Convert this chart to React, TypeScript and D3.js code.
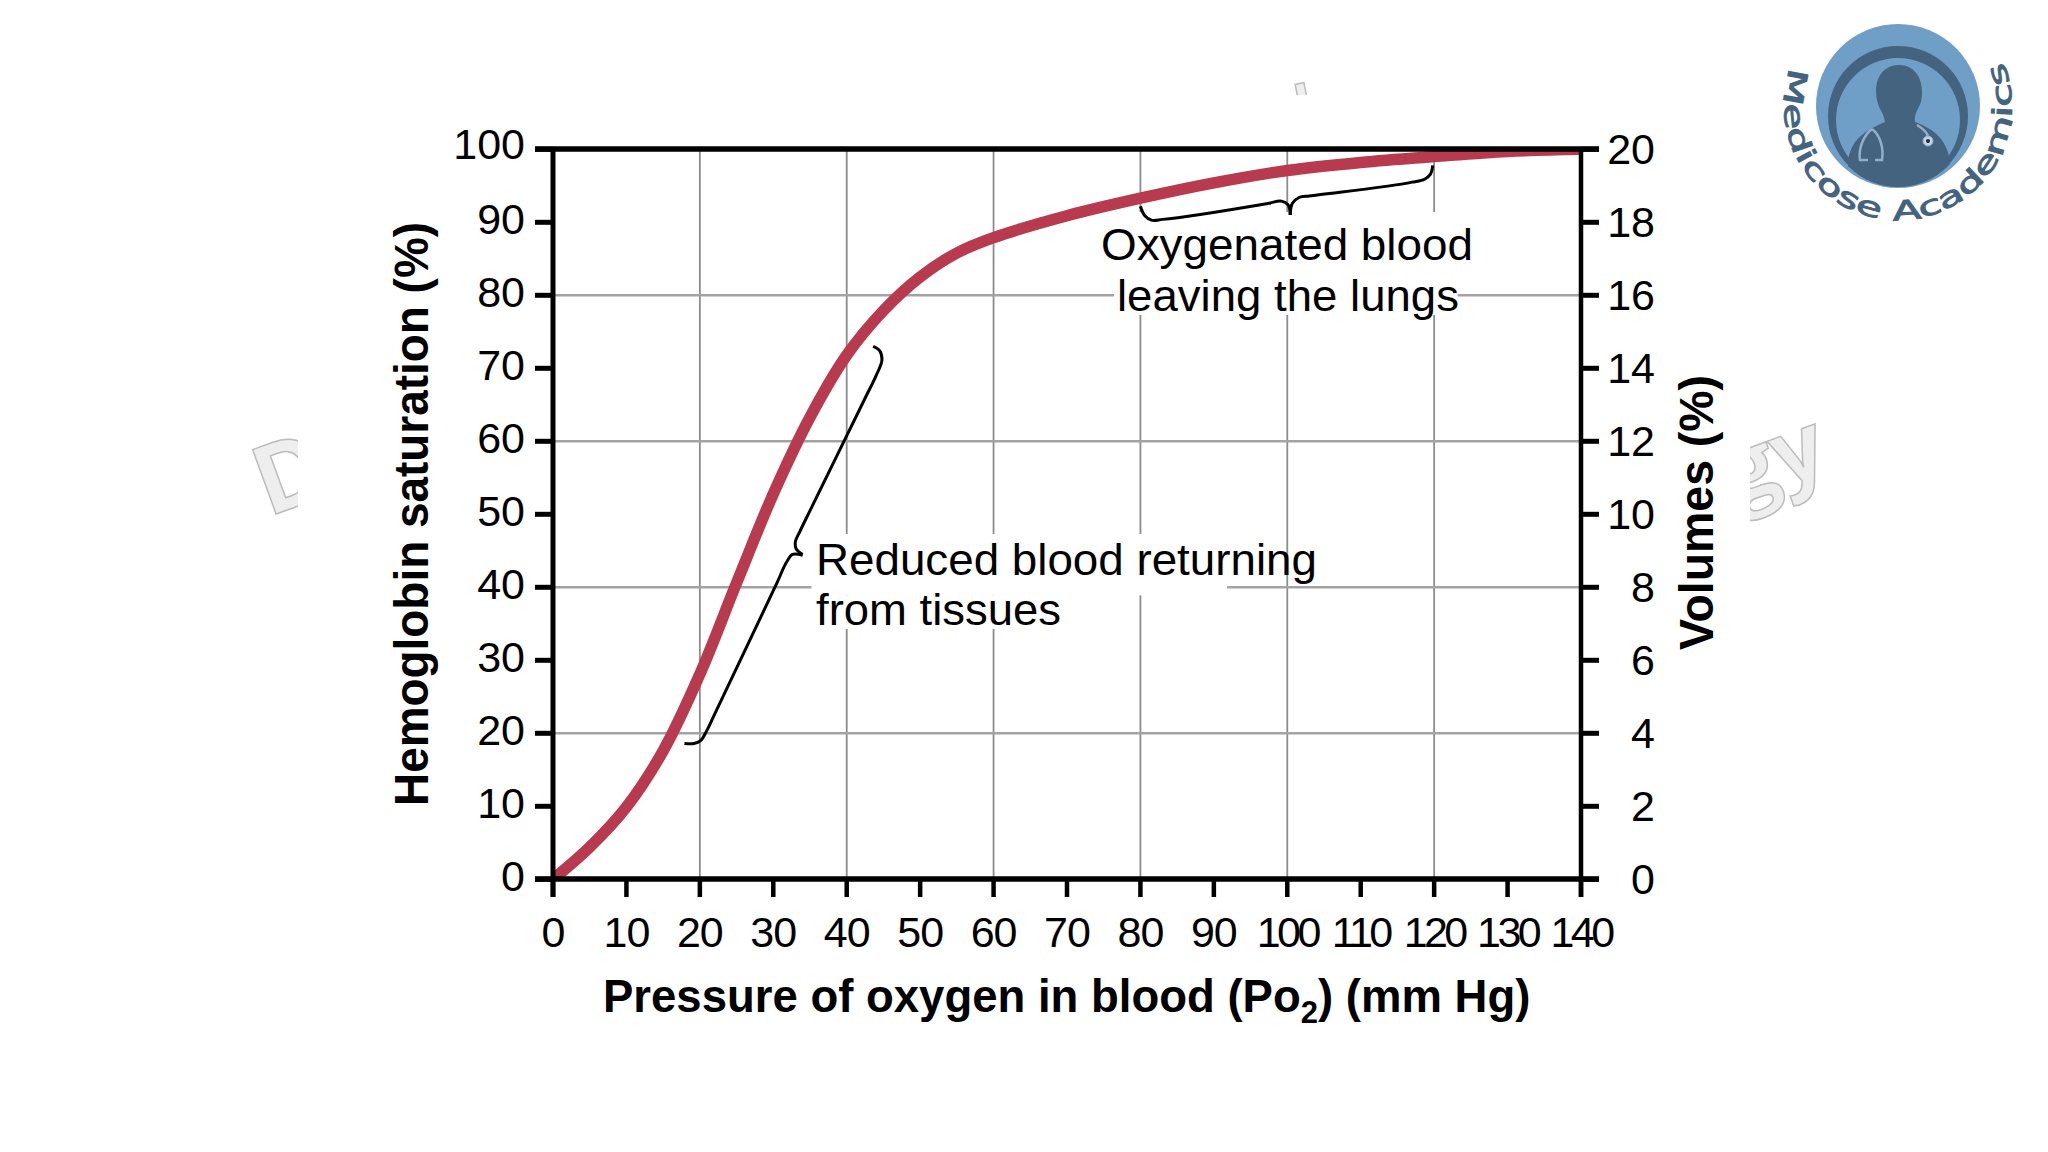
import { useEffect, useRef } from 'react'
import * as d3 from 'd3'

const width = 2048
const height = 1152
const margin = { top: 149, right: 467, bottom: 273, left: 553 }

// Po2 (mm Hg) vs saturation (%)
const po2 = [0, 5, 10, 15, 20, 25, 30, 35, 40, 45, 50, 55, 60, 70, 80, 90, 100, 110, 120, 130, 140]
const saturation = [0, 4.4, 9.9, 17.6, 28.1, 40.6, 52.8, 63.3, 71.8, 77.9, 82.5, 85.8, 87.9, 90.9, 93.3, 95.4, 97.1, 98.2, 99, 99.7, 100]

const xTicks = d3.range(0, 150, 10)
const yTicks = d3.range(0, 110, 10)
const volumeTicks = d3.range(0, 22, 2)
const gridX = [20, 40, 60, 80, 100, 120]
const gridY = [20, 40, 60, 80]

// brace strokes in data units [Po2, saturation]
const reducedBraceTop: [number, number][] = [[43.6, 73], [44.5, 72.4], [44.8, 71.2], [44, 69], [42.5, 65.9], [35, 50.5], [33.6, 47.6], [33, 46.2], [33.1, 45.3], [34, 44.5]]
const reducedBraceBottom: [number, number][] = [[34, 44.4], [32.6, 44.5], [31.9, 43.6], [30.5, 40.6], [22, 22.6], [20.9, 20.3], [20.1, 19], [19.2, 18.6], [17.9, 18.6]]
const oxyBraceLeft: [number, number][] = [[80, 92.2], [80.6, 90.9], [81.5, 90.3], [83, 90.4], [97.5, 92.6], [99.2, 92.9], [100.1, 92.4], [100.4, 91]]
const oxyBraceRight: [number, number][] = [[100.4, 91], [100.7, 92.6], [101.6, 93.4], [103, 93.6], [117, 95.5], [118.7, 95.9], [119.5, 96.6], [119.8, 97.8]]

export default function App() {
  const svgRef = useRef<SVGSVGElement>(null)

  useEffect(() => {
    if (!svgRef.current) return
    const svg = d3.select(svgRef.current)
    svg.selectAll('*').remove()

    const innerWidth = width - margin.left - margin.right
    const innerHeight = height - margin.top - margin.bottom
    const font = '"Liberation Sans", Arial, sans-serif'

    const x = d3.scaleLinear().domain([0, 140]).range([0, innerWidth])
    const y = d3.scaleLinear().domain([0, 100]).range([innerHeight + 0.3, 0.3])
    const yRight = d3.scaleLinear().domain([0, 20]).range([innerHeight + 0.3, 0.3])

    const defs = svg.append('defs')
    defs.append('clipPath').attr('id', 'clip-d').append('rect').attr('x', 230).attr('y', 420).attr('width', 68).attr('height', 120)
    defs.append('clipPath').attr('id', 'clip-gy').append('rect').attr('x', 1750).attr('y', 410).attr('width', 90).attr('height', 120)
    defs.append('clipPath').attr('id', 'clip-top').append('rect').attr('x', 1294).attr('y', 78).attr('width', 13).attr('height', 17)
    defs.append('clipPath').attr('id', 'clip-ring').append('circle').attr('cx', 1898).attr('cy', 117).attr('r', 70)
    defs.append('clipPath').attr('id', 'clip-plot').append('rect').attr('x', 0).attr('y', 0).attr('width', innerWidth).attr('height', innerHeight)

    // cut-off watermark behind the slide
    const watermark = svg.append('g')
      .style('font-family', '"Open Sans", sans-serif')
      .style('font-weight', 'bold')
      .attr('fill', '#eeeeee')
      .attr('stroke', '#bcbcbc')
      .attr('stroke-width', 1.5)
    watermark.append('g').attr('clip-path', 'url(#clip-d)')
      .append('text')
      .attr('transform', 'translate(268,517) rotate(-20)')
      .style('font-size', '96px')
      .text('D')
    watermark.append('g').attr('clip-path', 'url(#clip-gy)')
      .append('text')
      .attr('transform', 'translate(1736,505) rotate(-20)')
      .style('font-size', '90px')
      .text('gy')
    watermark.append('g').attr('clip-path', 'url(#clip-top)')
      .append('text')
      .attr('transform', 'translate(1300,130) rotate(-12)')
      .style('font-size', '60px')
      .text('l')

    const g = svg.append('g').attr('transform', `translate(${margin.left},${margin.top})`)
    g.style('font-family', font)

    // grid
    g.selectAll('.grid-x').data(gridX).enter().append('line')
      .attr('x1', d => x(d)).attr('x2', d => x(d))
      .attr('y1', 0).attr('y2', innerHeight)
      .attr('stroke', '#8c8c8c').attr('stroke-width', 1.8)
    g.selectAll('.grid-y').data(gridY).enter().append('line')
      .attr('x1', 0).attr('x2', innerWidth)
      .attr('y1', d => y(d)).attr('y2', d => y(d))
      .attr('stroke', '#a3a3a3').attr('stroke-width', 2.6)

    // the figure has white knocked out behind its labels
    const mask = [
      { x0: 76.4, x1: 123.2, y0: 91.4, y1: 77.3 },
      { x0: 35.2, x1: 91.8, y0: 47.3, y1: 38.9 },
      { x0: 35.2, x1: 66, y0: 38.9, y1: 34.3 },
    ]
    g.selectAll('.mask').data(mask).enter().append('rect')
      .attr('x', d => x(d.x0)).attr('y', d => y(d.y0))
      .attr('width', d => x(d.x1) - x(d.x0)).attr('height', d => y(d.y1) - y(d.y0))
      .attr('fill', '#fff')

    // curve
    const curve = d3.line<number>()
      .x(d => x(d))
      .y((_, i) => y(saturation[i]))
      .curve(d3.curveCatmullRom)
    g.append('g').attr('clip-path', 'url(#clip-plot)')
      .append('path')
      .datum(po2)
      .attr('fill', 'none')
      .attr('stroke', '#b83a4e')
      .attr('stroke-width', 11.5)
      .attr('d', curve)

    // braces
    const brace = d3.line<[number, number]>()
      .x(d => x(d[0]))
      .y(d => y(d[1]))
      .curve(d3.curveCatmullRom.alpha(0.8))
    ;[reducedBraceTop, reducedBraceBottom, oxyBraceLeft, oxyBraceRight].forEach(points => {
      g.append('path')
        .datum(points)
        .attr('fill', 'none')
        .attr('stroke', '#000')
        .attr('stroke-width', 3)
        .attr('d', brace)
    })

    // frame
    const frameColor = '#000'
    g.append('line').attr('x1', -18).attr('x2', innerWidth + 18).attr('y1', 0).attr('y2', 0)
      .attr('stroke', frameColor).attr('stroke-width', 5.5)
    g.append('line').attr('x1', -18).attr('x2', innerWidth + 18).attr('y1', innerHeight).attr('y2', innerHeight)
      .attr('stroke', frameColor).attr('stroke-width', 5.5)
    g.append('line').attr('x1', 0).attr('x2', 0).attr('y1', 0).attr('y2', innerHeight + 18)
      .attr('stroke', frameColor).attr('stroke-width', 5)
    g.append('line').attr('x1', innerWidth).attr('x2', innerWidth).attr('y1', 0).attr('y2', innerHeight + 18)
      .attr('stroke', frameColor).attr('stroke-width', 4.5)

    // ticks
    g.selectAll('.tick-x').data(xTicks).enter().append('line')
      .attr('x1', d => x(d)).attr('x2', d => x(d))
      .attr('y1', innerHeight).attr('y2', innerHeight + 18)
      .attr('stroke', frameColor).attr('stroke-width', 4.5)
    g.selectAll('.tick-y').data(yTicks).enter().append('line')
      .attr('x1', -18).attr('x2', 0)
      .attr('y1', d => y(d)).attr('y2', d => y(d))
      .attr('stroke', frameColor).attr('stroke-width', 5)
    g.selectAll('.tick-r').data(volumeTicks).enter().append('line')
      .attr('x1', innerWidth).attr('x2', innerWidth + 18)
      .attr('y1', d => yRight(d)).attr('y2', d => yRight(d))
      .attr('stroke', frameColor).attr('stroke-width', 5)

    // tick labels
    g.selectAll('.label-x').data(xTicks).enter().append('text')
      .attr('x', d => x(d))
      .attr('y', 798)
      .attr('text-anchor', 'middle')
      .attr('fill', '#000')
      .style('font-size', '43px')
      .style('letter-spacing', d => (d >= 100 ? '-3.6px' : '-1px'))
      .text(d => d)
    g.selectAll('.label-y').data(yTicks).enter().append('text')
      .attr('x', -28)
      .attr('y', d => y(d) + (d === 100 ? 10 : 12))
      .attr('text-anchor', 'end')
      .attr('fill', '#000')
      .style('font-size', '43px')
      .text(d => d)
    g.selectAll('.label-r').data(volumeTicks).enter().append('text')
      .attr('x', 1102)
      .attr('y', d => yRight(d) + 15)
      .attr('text-anchor', 'end')
      .attr('fill', '#000')
      .style('font-size', '43px')
      .text(d => d)

    // axis titles
    const xTitle = g.append('text')
      .attr('x', 50)
      .attr('y', 863)
      .attr('fill', '#000')
      .style('font-size', '45.5px')
      .style('font-weight', 'bold')
    xTitle.append('tspan').text('Pressure of oxygen in blood (P')
    xTitle.append('tspan').text('o')
    xTitle.append('tspan').attr('dy', 11).style('font-size', '31px').text('2')
    xTitle.append('tspan').attr('dy', -11).text(') (mm Hg)')

    g.append('text')
      .attr('transform', `translate(${428 - margin.left},${806 - margin.top}) rotate(-90)`)
      .attr('fill', '#000')
      .attr('textLength', 584)
      .attr('lengthAdjust', 'spacingAndGlyphs')
      .style('font-size', '48px')
      .style('font-weight', 'bold')
      .text('Hemoglobin saturation (%)')
    g.append('text')
      .attr('transform', `translate(${1713 - margin.left},${650 - margin.top}) rotate(-90)`)
      .attr('fill', '#000')
      .attr('textLength', 275)
      .attr('lengthAdjust', 'spacingAndGlyphs')
      .style('font-size', '48px')
      .style('font-weight', 'bold')
      .text('Volumes (%)')

    // curve annotations
    const note = (label: string, px: number, py: number, len: number) =>
      g.append('text')
        .attr('x', px - margin.left)
        .attr('y', py - margin.top)
        .attr('fill', '#000')
        .attr('textLength', len)
        .attr('lengthAdjust', 'spacingAndGlyphs')
        .style('font-size', '44px')
        .text(label)
    note('Oxygenated blood', 1101, 260, 372)
    note('leaving the lungs', 1117, 311, 342)
    note('Reduced blood returning', 816, 575, 501)
    note('from tissues', 816, 625, 245)

    // channel logo
    const logo = svg.append('g')
    logo.append('circle').attr('cx', 1898).attr('cy', 106).attr('r', 82).attr('fill', '#6f9fc6')
    logo.append('circle').attr('cx', 1898).attr('cy', 116).attr('r', 70).attr('fill', '#44637f')
    logo.append('circle').attr('cx', 1898).attr('cy', 120).attr('r', 62).attr('fill', '#6f9fc6')
    const person = logo.append('g').attr('clip-path', 'url(#clip-ring)')
    person.append('path')
      .attr('fill', '#44637f')
      .attr('d', 'M1848 160 C1852 140 1862 132 1885 122 C1884 114 1880 110 1878 104 C1872 84 1880 65 1899 65 C1918 65 1925 84 1921 102 C1918 110 1914 114 1915 122 C1936 130 1946 140 1950 160 L1950 190 L1848 190 Z')
    logo.append('path')
      .attr('fill', 'none')
      .attr('stroke', '#8fb0cb')
      .attr('stroke-width', 2.5)
      .attr('d', 'M1872 129 C1864 135 1858 148 1860 160 L1868 160 M1872 129 C1880 135 1884 148 1882 160 L1875 160')
    logo.append('path')
      .attr('fill', 'none')
      .attr('stroke', '#8fb0cb')
      .attr('stroke-width', 2.5)
      .attr('d', 'M1917 125 C1922 128 1926 131 1928 136')
    logo.append('circle').attr('cx', 1928).attr('cy', 141).attr('r', 5).attr('fill', '#c5d6e4').attr('stroke', '#8fb0cb')
    logo.append('circle').attr('cx', 1928).attr('cy', 141).attr('r', 2).attr('fill', '#1d2b38')

    const arc = d3.path()
    arc.arc(1898, 106, 114, Math.PI + 0.34, -0.42, true)
    defs.append('path').attr('id', 'logo-arc').attr('d', arc.toString())
    logo.append('text')
      .attr('fill', '#44637f')
      .attr('stroke', '#44637f')
      .attr('stroke-width', 0.9)
      .style('font-family', '"DejaVu Sans", sans-serif')
      .style('font-size', '27px')
      .append('textPath')
      .attr('href', '#logo-arc')
      .attr('textLength', 442)
      .attr('lengthAdjust', 'spacingAndGlyphs')
      .text('Medicose Academics')
  }, [])

  return <svg ref={svgRef} width={width} height={height} style={{ position: 'fixed', left: 0, top: 0, background: '#fff' }} />
}
